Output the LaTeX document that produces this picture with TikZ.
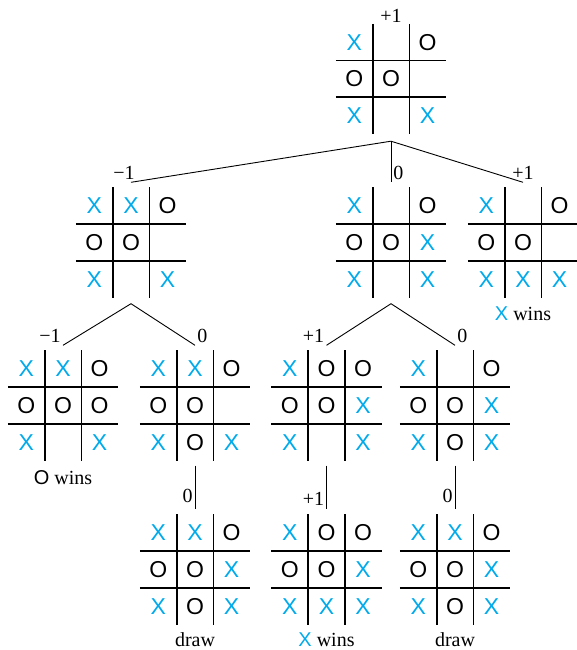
\documentclass[tikz,border=0pt]{standalone}
\usepackage{fontspec}
\setmainfont{Liberation Serif}
\newfontfamily\gridfont{Liberation Sans}
\usetikzlibrary{positioning}

\definecolor{xblue}{RGB}{0,170,235}
\newcommand{\xmark}{\textcolor{xblue}{X}}
\newcommand{\omark}{O}

\tikzset{
  board/.style={minimum width=110pt, minimum height=110pt, inner sep=0pt},
  gridline/.style={line width=1.6pt},
  edge/.style={line width=0.9pt},
  cellmark/.style={font=\gridfont\fontsize{23}{23}\selectfont, inner sep=0pt},
  val/.style={font=\fontsize{20}{22}\selectfont, inner sep=2pt},
  result/.style={font=\fontsize{20}{22}\selectfont, inner sep=0pt}
}

% one tic-tac-toe position: name, centre, nine cells
\newcommand{\tttboard}[3]{%
  \node[board] (#1) at (#2) {};
  \draw[gridline] ([xshift=-18.3pt]#1.north) -- ([xshift=-18.3pt]#1.south);
  \draw[gridline] ([xshift=18.3pt]#1.north) -- ([xshift=18.3pt]#1.south);
  \draw[gridline] ([yshift=18.3pt]#1.west) -- ([yshift=18.3pt]#1.east);
  \draw[gridline] ([yshift=-18.3pt]#1.west) -- ([yshift=-18.3pt]#1.east);
  \foreach \m [count=\i from 0] in {#3} {
    \pgfmathtruncatemacro\col{mod(\i,3)}
    \pgfmathtruncatemacro\row{\i/3}
    \node[cellmark] (#1-\i) at ([xshift={(\col-1)*36.6pt}, yshift={(1-\row)*36.6pt}]#1.center) {\m};
  }
}

\begin{document}
\begin{tikzpicture}[x=1pt, y=-1pt]
    \useasboundingbox (0,0) rectangle (577,650);

    % Root position
    \tttboard{root}{391,79}{\xmark,,\omark,\omark,\omark,,\xmark,,\xmark}
    \node[val, above, inner sep=1pt] (vroot) at (root.north) {+1};

    % First move of X
    \tttboard{lboard}{131,242.5}{\xmark,\xmark,\omark,\omark,\omark,,\xmark,,\xmark}
    \tttboard{mboard}{391,242.5}{\xmark,,\omark,\omark,\omark,\xmark,\xmark,,\xmark}
    \tttboard{rboard}{523,242.5}{\xmark,,\omark,\omark,\omark,,\xmark,\xmark,\xmark}
    \node[result, below=9pt of rboard] (rwin) {{\gridfont\xmark} wins};

    % Reply of O
    \tttboard{owin}{63,405.5}{\xmark,\xmark,\omark,\omark,\omark,\omark,\xmark,,\xmark}
    \tttboard{lblock}{195,405.5}{\xmark,\xmark,\omark,\omark,\omark,,\xmark,\omark,\xmark}
    \tttboard{mcorner}{326.5,405.5}{\xmark,\omark,\omark,\omark,\omark,\xmark,\xmark,,\xmark}
    \tttboard{mblock}{455,405.5}{\xmark,,\omark,\omark,\omark,\xmark,\xmark,\omark,\xmark}
    \node[result, below=10pt of owin] (owintext) {{\gridfont\omark} wins};

    % Last move of X
    \tttboard{ldraw}{195,569.5}{\xmark,\xmark,\omark,\omark,\omark,\xmark,\xmark,\omark,\xmark}
    \tttboard{xwin}{326.5,569.5}{\xmark,\omark,\omark,\omark,\omark,\xmark,\xmark,\xmark,\xmark}
    \tttboard{rdraw}{455,569.5}{\xmark,\xmark,\omark,\omark,\omark,\xmark,\xmark,\omark,\xmark}
    \node[result, below=8pt of ldraw] (ldrawtext) {draw};
    \node[result, below=8pt of xwin] (xwintext) {{\gridfont\xmark} wins};
    \node[result, below=8pt of rdraw] (rdrawtext) {draw};

    % Tree edges
    \coordinate (rootfork) at ([yshift=-7pt]root.south);
    \draw[edge] (rootfork) -- ([yshift=5pt]lboard.north) node[val, above, xshift=-7pt] (vl) {−1};
    \draw[edge] (rootfork) -- ([yshift=5pt]mboard.north) node[val, above right] (vm) {0};
    \draw[edge] (rootfork) -- ([yshift=5pt]rboard.north) node[val, above] (vr) {+1};

    \coordinate (lfork) at ([yshift=-6pt]lboard.south);
    \draw[edge] (lfork) -- ([yshift=5pt]owin.north) node[val, above left] (vowin) {−1};
    \draw[edge] (lfork) -- ([yshift=5pt]lblock.north) node[val, above right] (vlblock) {0};

    \coordinate (mfork) at ([yshift=-6pt]mboard.south);
    \draw[edge] (mfork) -- ([yshift=5pt]mcorner.north) node[val, above left] (vmcorner) {+1};
    \draw[edge] (mfork) -- ([yshift=5pt]mblock.north) node[val, above right] (vmblock) {0};

    \draw[edge] ([yshift=-5pt]lblock.south) -- node[val, pos=0.7, left] (vldraw) {0} ([yshift=5pt]ldraw.north);
    \draw[edge] ([yshift=-5pt]mcorner.south) -- node[val, pos=0.75, left] (vxwin) {+1} ([yshift=5pt]xwin.north);
    \draw[edge] ([yshift=-5pt]mblock.south) -- node[val, pos=0.7, left] (vrdraw) {0} ([yshift=5pt]rdraw.north);
\end{tikzpicture}
\end{document}
